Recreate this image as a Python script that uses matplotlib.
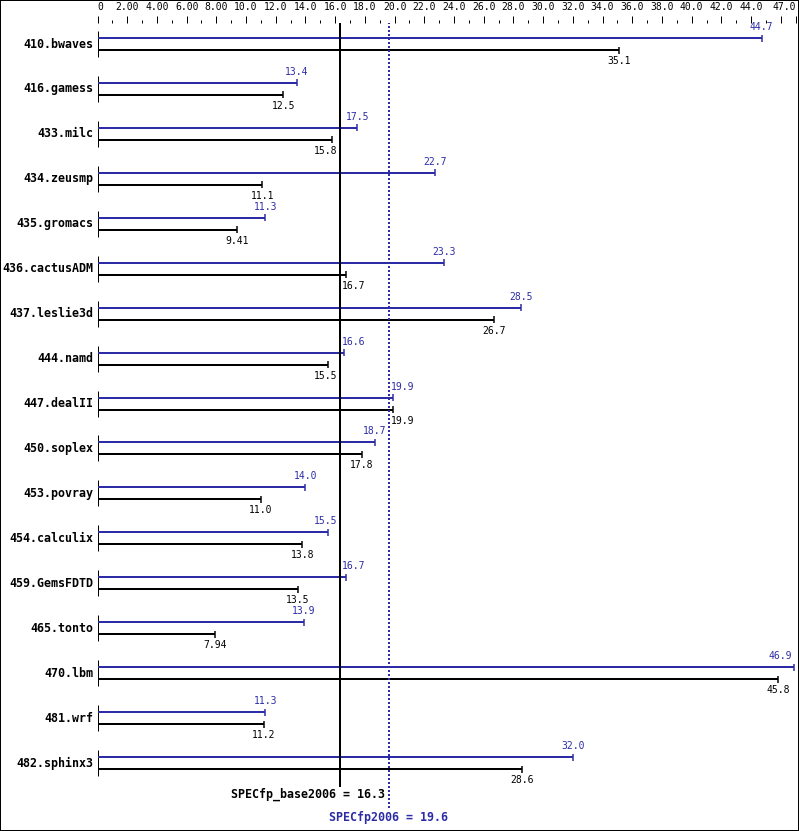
import matplotlib
matplotlib.use("Agg")
import matplotlib.pyplot as plt
from matplotlib.patches import Rectangle

benchmarks = ["410.bwaves", "416.gamess", "433.milc", "434.zeusmp", "435.gromacs",
              "436.cactusADM", "437.leslie3d", "444.namd", "447.dealII", "450.soplex",
              "453.povray", "454.calculix", "459.GemsFDTD", "465.tonto", "470.lbm",
              "481.wrf", "482.sphinx3"]
peak = [44.7, 13.4, 17.5, 22.7, 11.3, 23.3, 28.5, 16.6, 19.9, 18.7,
        14.0, 15.5, 16.7, 13.9, 46.9, 11.3, 32.0]
base = [35.1, 12.5, 15.8, 11.1, 9.41, 16.7, 26.7, 15.5, 19.9, 17.8,
        11.0, 13.8, 13.5, 7.94, 45.8, 11.2, 28.6]
base_mean = 16.3
peak_mean = 19.6
major_ticks = list(range(0, 47, 2)) + [47]
minor_ticks = list(range(1, 46, 2))

BLUE = "#2c2ca6"
W, H = 799, 831
X0 = 97.5          # pixel of value 0
PPU = 14.855       # pixels per unit
TOP = 23           # pixel row of the tick baseline
PX = 0.72          # one pixel in points

MONO = "DejaVu Sans Mono"


def fmt(v):
    if v == 0:
        return "0"
    return f"{v:.2f}" if v < 10 else f"{v:.1f}"


fig = plt.figure(figsize=(W / 100, H / 100), dpi=100)
ax = fig.add_axes([X0 / W, 0, (W - X0) / W, (H - TOP) / H])
ax.set_xlim(0, (W - X0) / PPU)
ax.set_ylim(H, TOP)
for sp in ax.spines.values():
    sp.set_visible(False)
ax.set_yticks([])

ax.set_xticks(major_ticks)
ax.set_xticks(minor_ticks, minor=True)
labels = [fmt(t) if (t <= 44 or t == 47) else "" for t in major_ticks]
ax.set_xticklabels(labels, family=MONO, fontsize=7)
ax.tick_params(axis="x", which="both", top=True, bottom=False, labeltop=True,
               labelbottom=False, direction="out", width=PX, color="black")
ax.tick_params(axis="x", which="major", length=7 * PX, pad=3)
ax.tick_params(axis="x", which="minor", length=3 * PX)
tl = ax.get_xticklabels()
tl[0].set_horizontalalignment("left")
tl[-1].set_horizontalalignment("right")

char_w = 5.85 / PPU
gap = 2.0 / PPU
xlim_text = (792 - X0) / PPU


def value_label(v, y, color):
    s = fmt(v)
    w = len(s) * char_w
    left = v - w / 2
    for m in (base_mean, peak_mean):
        if left < m + gap and left + w > m - gap:
            left = m + gap if v >= m else m - gap - w
    if left + w > xlim_text:
        left = xlim_text - w
    ax.text(left, y, s, ha="left", va="center", color=color,
            family=MONO, fontsize=7)


spacing = 44.94
for i, name in enumerate(benchmarks):
    y0 = 44 + i * spacing
    yp, yb = y0 - 6, y0 + 6
    ax.vlines(0, y0 - 13, y0 + 13, color="black", lw=PX)
    ax.hlines(yp, 0, peak[i], color=BLUE, lw=2 * PX)
    ax.vlines(peak[i], yp - 3.5, yp + 3.5, color=BLUE, lw=1.5 * PX)
    ax.hlines(yb, 0, base[i], color="black", lw=2 * PX)
    ax.vlines(base[i], yb - 3.5, yb + 3.5, color="black", lw=1.5 * PX)
    value_label(peak[i], yp - 11, BLUE)
    value_label(base[i], yb + 11, "black")
    ax.text(-4 / PPU, y0, name, ha="right", va="center", family=MONO,
            fontsize=8.4, fontweight="bold", clip_on=False)

ax.vlines(base_mean, 22, 787, color="black", lw=2 * PX)
ax.vlines(peak_mean, 22, 808, color=BLUE, lw=2 * PX, linestyles=(0, (1, 1)))
ax.text(peak_mean - 4 / PPU, 794, f"SPECfp_base2006 = {base_mean}", ha="right",
        va="center", family=MONO, fontsize=8.4, fontweight="bold")
ax.text(peak_mean, 817, f"SPECfp2006 = {peak_mean}", ha="center", va="center",
        family=MONO, fontsize=8.4, fontweight="bold", color=BLUE)

fig.add_artist(Rectangle((0, 0), 1, 1, transform=fig.transFigure, fill=False,
                         edgecolor="black", lw=2 * PX))

fig.savefig("out.png", dpi=100)
